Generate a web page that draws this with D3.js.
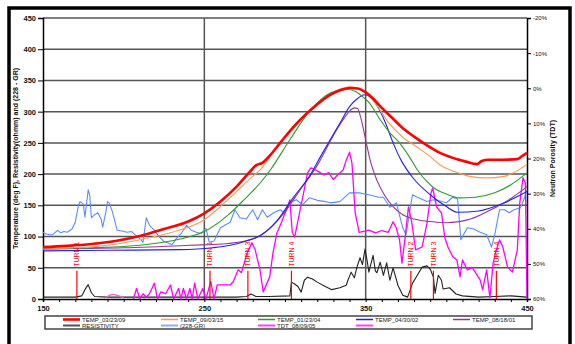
<!DOCTYPE html>
<html>
<head>
<meta charset="utf-8">
<script src="https://cdn.jsdelivr.net/npm/d3@7"></script>
<style>
  body { margin: 0; background: #fff; }
  svg { display: block; font-family: "Liberation Sans", Arial, sans-serif; }
</style>
</head>
<body>
<div id="chart"></div>
<script>
// depth (x) vs temperature / resistivity / (228 - GR) on left axis, TDT porosity on right axis
const temp030309 = [[150,83],[165,85],[180,88],[195,93],[210,101],[225,112],[240,124],[250,137],[260,156],[270,180],[278,203],[282,214],[286,218],[290,228],[297,250],[305,275],[313,296],[320,312],[328,327],[335,335],[340,338],[345,337],[350,331],[355,320],[360,306],[366,291],[372,276],[380,260],[388,246],[396,234],[404,226],[412,220],[419,216],[422,221],[426,223],[435,223],[444,224],[447,229],[450,234]];
const temp090315 = [[150,80],[170,82],[190,86],[210,95],[230,107],[250,127],[260,148],[270,172],[278,192],[285,208],[295,244],[305,272],[313,295],[320,312],[328,328],[335,337],[340,340],[345,338],[350,330],[356,313],[365,280],[373,259],[382,243],[390,228],[396,215],[405,204],[415,196],[425,194],[435,196],[443,204],[450,216]];
const temp012304 = [[150,80],[180,82],[210,86],[235,96],[250,108],[265,135],[275,160],[285,187],[291,207],[303,255],[315,300],[328,330],[338,336],[344,332],[348,324],[352,315],[359,287],[365,266],[371,250],[377,228],[382,207],[388,188],[394,175],[400,168],[408,162],[418,163],[430,170],[440,183],[450,202]];
const temp043002 = [[150,77],[190,78],[235,79],[255,82],[266,86],[276,93],[285,102],[295,125],[305,162],[315,196],[322,228],[328,255],[335,286],[340,308],[345,321],[349,327],[353,324],[357,310],[362,284],[367,250],[372,222],[379,195],[390,167],[400,148],[407,139],[420,141],[435,153],[450,172]];
const temp081801 = [[150,80],[200,82],[240,86],[265,89],[280,96],[290,112],[300,140],[310,177],[320,214],[330,262],[336,287],[340,301],[343,306],[345,305],[347,290],[350,255],[353,220],[357,190],[362,165],[367,148],[373,135],[380,128],[390,124],[400,122],[415,128],[427,142],[440,161],[450,180]];
const resistivity = [[150,3],[160,3],[170,3],[174,5],[176,15],[178,23],[180,10],[182,4],[190,3],[210,3],[240,3],[270,3],[276,4],[279,8],[282,4],[290,4],[303,5],[304,27],[306,24],[308,20],[310,11],[312,30],[314,35],[317,32],[320,27],[325,20],[329,15],[334,18],[338,22],[339,30],[341,43],[343,34],[344.6,51],[346.5,66],[348,55],[349.6,80],[351,60],[352,43],[354.6,70],[356,45],[357,42],[359,59],[361,38],[363,58],[365,30],[367,50],[370,22],[373,6],[376,3],[379,25],[382,38],[385,51],[388,53],[390,48],[392,35],[393,9],[395,38],[397,30],[398,16],[402,18],[406,8],[410,5],[420,3],[430,4],[440,5],[450,3]];
const gr = [[150,107],[152,104],[154,103],[156,103],[159,110],[161,106],[163,108],[165,107],[168,112],[170,123],[172,150],[173,156],[175,152],[176,131],[178,175],[179,165],[180,130],[182,135],[184,138],[186,128],[187,115],[189,140],[190,156],[191,154],[193,140],[196,110],[199,109],[202,107],[205,108],[207,103],[209,99],[212,91],[214,130],[216,118],[219,110],[222,100],[225,92],[227,90],[230,87],[233,98],[236,106],[239,118],[242,110],[245,107],[248,105],[251,113],[253,91],[256,93],[260,114],[266,123],[269,143],[272,130],[276,128],[280,143],[283,127],[286,143],[289,131],[293,138],[297,143],[300,137],[303,154],[307,159],[311,151],[315,162],[320,158],[325,156],[328,154],[334,156],[340,170],[346,170],[352,167],[358,163],[361,163],[365,147],[369,154],[373,114],[375,103],[379,167],[382,163],[388,156],[392,159],[396,157],[400,154],[404,163],[407,160],[409,95],[413,114],[417,112],[421,107],[425,103],[428,83],[430,103],[433,143],[436,143],[439,138],[442,143],[446,146],[448,159],[450,175]];
// porosity in percent (right axis)
const tdt080905 = [[206,60],[208,57],[210,60],[212,58.5],[214,59.5],[216,58.5],[219,55.5],[221,60],[223,58],[226,58.5],[229,56],[231,60],[234,57],[235.5,60],[237,57],[239,60],[241,57],[242.5,60],[244,55.5],[246,60],[249,57],[251,60],[254,55],[256,60],[258,56],[262,56],[266,56],[268,55],[271,51.7],[273,52.5],[276.5,47],[279.5,44],[281.5,46],[284.5,51.7],[286.5,58],[290.5,53.7],[292.5,47],[295,41.2],[298,38],[300,35.5],[303,31.8],[304.5,41],[306,42.4],[309,35.5],[311,31],[314,24],[316,22.7],[318,23],[321,23.8],[324,24.7],[327,24],[330,26],[332,25],[336,23.3],[338,20.4],[340,18.2],[341.5,21.3],[343.5,35.5],[346,41],[352,40.4],[356,41.2],[360,40.5],[364,41],[367,38],[369,39.8],[371,43.2],[372.5,49.8],[374.5,42.4],[376.5,33.8],[378.5,38],[381,46],[385,45.2],[388,38.4],[390.5,29.8],[391.5,28.4],[394,33.8],[397,35.5],[399,42.4],[401,45.2],[404,48],[406.5,48.9],[408.5,53.7],[410,48.9],[413,51.7],[416,51],[421,54.6],[422.5,57.4],[425,51.7],[427,59.7],[429,49.8],[431,46],[433,43.2],[435,45.2],[438,51],[441,52.3],[444,46],[445.5,32.7],[447.5,25.5],[449,27],[450,60]];
const tdtOther = [[189,59.6],[191,59],[193,58.7],[195,58.8],[197,59.1],[200,59.7]];

const turns = [[171,"TURN 1"],[253.5,"TURN 1"],[277,"TURN 3"],[304,"TURN 4"],[378,"TURN 2"],[392,"TURN 3"],[431,"TURN 4"]];
const leftTicks = [0,50,100,150,200,250,300,350,400,450];
const rightTicks = [-20,-10,0,10,20,30,40,50,60];
const xLabels = [150,250,350,450];

const width = 575, height = 344;
const margin = {top: 18, right: 48, bottom: 45, left: 43};

const svg = d3.select("#chart").append("svg")
  .attr("width", width).attr("height", height);

// chart frame
svg.append("rect")
  .attr("x", 9).attr("y", 8).attr("width", 561).attr("height", 350)
  .attr("fill", "#fff").attr("stroke", "#000").attr("stroke-width", 3.5);

const x = d3.scaleLinear().domain([150, 450]).range([margin.left, width - margin.right]);
const y = d3.scaleLinear().domain([0, 450]).range([height - margin.bottom, margin.top]);
const y2 = d3.scaleLinear().domain([-20, 60]).range([margin.top, height - margin.bottom]);

// grid
svg.append("g").selectAll("line").data(leftTicks.slice(1)).join("line")
  .attr("x1", x(150)).attr("x2", x(450))
  .attr("y1", d => y(d)).attr("y2", d => y(d))
  .attr("stroke", "#555").attr("stroke-width", 1.5);
svg.append("g").selectAll("line").data([250, 350]).join("line")
  .attr("x1", d => x(d)).attr("x2", d => x(d))
  .attr("y1", y(0)).attr("y2", y(450))
  .attr("stroke", "#555").attr("stroke-width", 1.5);

// axes
const leftAxis = svg.append("g")
  .attr("transform", `translate(${x(150)},0)`)
  .call(d3.axisLeft(y).tickValues(leftTicks).tickSize(5).tickPadding(2));
const rightAxis = svg.append("g")
  .attr("transform", `translate(${x(450)},0)`)
  .call(d3.axisRight(y2).tickValues(rightTicks).tickSize(4).tickPadding(2).tickFormat(d => d + "%"));
const bottomAxis = svg.append("g")
  .attr("transform", `translate(0,${y(0)})`)
  .call(d3.axisBottom(x).tickValues(d3.range(150, 451, 10)).tickSize(3).tickPadding(4)
    .tickFormat(d => xLabels.includes(d) ? d : ""));

[leftAxis, rightAxis, bottomAxis].forEach(a => {
  a.select(".domain").attr("stroke", "#000").attr("stroke-width", 1.5);
  a.selectAll(".tick line").attr("stroke", "#000");
  a.selectAll("text").attr("fill", "#111").style("font-weight", "bold");
});
leftAxis.selectAll("text").style("font-size", "7.5px");
bottomAxis.selectAll("text").style("font-size", "7.5px");
rightAxis.selectAll("text").style("font-size", "6px").style("font-weight", "normal");

// axis titles
svg.append("text")
  .attr("transform", `translate(18,${(y(0) + y(450)) / 2}) rotate(-90)`)
  .attr("text-anchor", "middle").style("font-size", "7px").style("font-weight", "bold")
  .attr("fill", "#111")
  .text("Temperature (deg F), Resistivity(ohmm) and (228 - GR)");
svg.append("text")
  .attr("transform", `translate(555,${(y(0) + y(450)) / 2}) rotate(-90)`)
  .attr("text-anchor", "middle").style("font-size", "7px").style("font-weight", "bold")
  .attr("fill", "#111")
  .text("Neutron Porosity (TDT)");

// series
const lineL = d3.line().x(d => x(d[0])).y(d => y(d[1]));
const smoothL = d3.line().x(d => x(d[0])).y(d => y(d[1])).curve(d3.curveMonotoneX);
const lineR = d3.line().x(d => x(d[0])).y(d => y2(d[1]));

const plot = svg.append("g");
const draw = (data, gen, color, w) => plot.append("path")
  .attr("d", gen(data)).attr("fill", "none")
  .attr("stroke", color).attr("stroke-width", w).attr("stroke-linejoin", "round");

draw(gr, lineL, "#5b8cff", 1.1);
draw(resistivity, lineL, "#222", 1.1);
draw(tdtOther, lineR, "#e060e0", 1.3);
draw(tdt080905, lineR, "#ff00ff", 1.3);
draw(temp081801, smoothL, "#993399", 1.1);
draw(temp043002, smoothL, "#2222ee", 1.1);
draw(temp012304, smoothL, "#2f9a2f", 1.1);
draw(temp090315, smoothL, "#ff9955", 1.1);
draw(temp030309, smoothL, "#ff0000", 2.6);

// turn markers
const tg = svg.append("g").selectAll("g").data(turns).join("g");
tg.append("line")
  .attr("x1", d => x(d[0])).attr("x2", d => x(d[0]))
  .attr("y1", y(50) + 3).attr("y2", y(0))
  .attr("stroke", "#ff0000").attr("stroke-width", 1.2);
tg.append("text")
  .attr("transform", d => `translate(${x(d[0]) + 2.5},${y(50) - 1}) rotate(-90)`)
  .style("font-size", "7px").attr("fill", "#ff0000")
  .text(d => d[1]);

// legend
const legendItems = [
  {name: "TEMP_03/23/09", color: "#ff0000", w: 2.6},
  {name: "TEMP_09/03/15", color: "#ff9955", w: 1.5},
  {name: "TEMP_01/23/04", color: "#2f9a2f", w: 1.5},
  {name: "TEMP_04/30/02", color: "#2222ee", w: 1.5},
  {name: "TEMP_08/18/01", color: "#993399", w: 1.5},
  {name: "RESISTIVITY", color: "#555", w: 2},
  {name: "(228-GR)", color: "#88aaff", w: 2},
  {name: "TDT_08/09/05", color: "#ff44ff", w: 2},
  {name: "", color: "#ff44ff", w: 2}
];
const legend = svg.append("g");
legend.append("rect")
  .attr("x", 45).attr("y", 316).attr("width", 487).attr("height", 13)
  .attr("fill", "#fff").attr("stroke", "#444").attr("stroke-width", 1.5);
const colX = [63, 161, 258, 356, 453];
const li = legend.selectAll("g").data(legendItems).join("g")
  .attr("transform", (d, i) => `translate(${colX[i % 5]},${i < 5 ? 319.5 : 325.5})`);
li.append("line").attr("x1", 0).attr("x2", 17)
  .attr("stroke", d => d.color).attr("stroke-width", d => d.w);
li.append("text").attr("x", 19).attr("dy", "0.35em")
  .style("font-size", "6px").attr("fill", "#222")
  .text(d => d.name);
</script>
</body>
</html>
